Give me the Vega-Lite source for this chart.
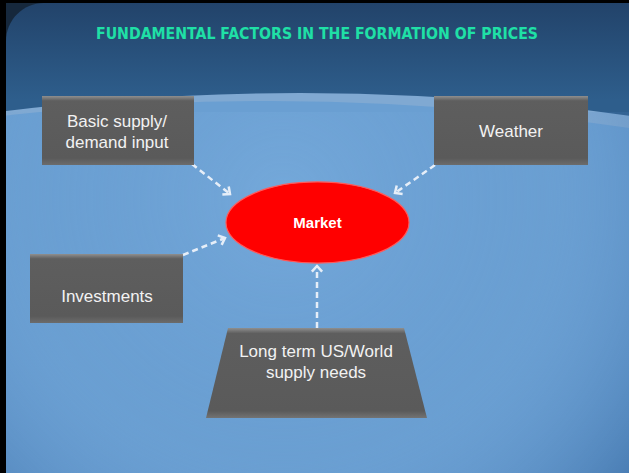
{
  "$schema": "https://vega.github.io/schema/vega-lite/v6.json",
  "width": 629,
  "height": 473,
  "autosize": {"type": "fit", "contains": "padding"},
  "padding": 0,
  "background": "#16283c",
  "config": {"view": {"stroke": null}, "axis": {"disable": true}},
  "datasets": {
    "slide": [{"x0": 6, "x1": 690, "y0": 3, "y1": 540}],
    "band": [{"cx": 300, "cy": 2493}],
    "body": [{"cx": 270, "cy": 2501}],
    "shade": [{"x0": 0, "x1": 629, "y0": 112, "y1": 473}],
    "edge": [{"x0": 0, "x1": 6, "y0": 0, "y1": 473}, {"x0": 0, "x1": 629, "y0": 0, "y1": 3}],
    "boxes": [
      {"name": "supply", "x0": 42, "x1": 194, "y0": 96, "y1": 165},
      {"name": "weather", "x0": 434, "x1": 588, "y0": 96, "y1": 165},
      {"name": "investments", "x0": 30, "x1": 183, "y0": 254, "y1": 323}
    ],
    "trap": [
      {"y": 328, "xl": 228, "xr": 404},
      {"y": 418, "xl": 206, "xr": 427}
    ],
    "market": [{"x": 317.5, "y": 222.5, "label": "Market"}],
    "arrows": [
      {"x": 192, "y": 164, "x2": 230, "y2": 194},
      {"x": 435, "y": 165, "x2": 395, "y2": 193},
      {"x": 183, "y": 255, "x2": 225, "y2": 238},
      {"x": 317, "y": 328, "x2": 317, "y2": 266}
    ],
    "labels": [
      {"x": 117, "y": 122, "text": "Basic supply/\ndemand input"},
      {"x": 511, "y": 131.5, "text": "Weather"},
      {"x": 107, "y": 297, "text": "Investments"},
      {"x": 316, "y": 352, "text": "Long term US/World\nsupply needs"}
    ],
    "title": [{"x": 317, "y": 34, "text": "FUNDAMENTAL FACTORS IN THE FORMATION OF PRICES"}]
  },
  "layer": [
    {
      "data": {"name": "slide"},
      "mark": {
        "type": "rect", "clip": true, "cornerRadius": 38,
        "fill": {"gradient": "linear", "x1": 0, "y1": 0, "x2": 0, "y2": 1,
          "stops": [{"offset": 0, "color": "#22436a"}, {"offset": 0.18, "color": "#2e5e8c"}, {"offset": 1, "color": "#2e5e8c"}]}
      },
      "encoding": {
        "x": {"field": "x0", "type": "quantitative", "scale": {"domain": [0, 629], "nice": false, "zero": false}},
        "x2": {"field": "x1"},
        "y": {"field": "y0", "type": "quantitative", "scale": {"domain": [0, 473], "nice": false, "zero": false, "reverse": true}},
        "y2": {"field": "y1"}
      }
    },
    {
      "data": {"name": "band"},
      "mark": {"type": "arc", "clip": true, "radius": 2400, "fill": "#80a9d2"},
      "encoding": {
        "x": {"field": "cx", "type": "quantitative"},
        "y": {"field": "cy", "type": "quantitative"}
      }
    },
    {
      "data": {"name": "body"},
      "mark": {"type": "arc", "clip": true, "radius": 2400, "fill": "#6a9fd2"},
      "encoding": {
        "x": {"field": "cx", "type": "quantitative"},
        "y": {"field": "cy", "type": "quantitative"}
      }
    },
    {
      "data": {"name": "shade"},
      "mark": {
        "type": "rect", "clip": true,
        "fill": {"gradient": "radial", "x1": 0.45, "y1": 0.35, "r1": 0, "x2": 0.45, "y2": 0.35, "r2": 0.75,
          "stops": [{"offset": 0, "color": "rgba(140,190,235,0.3)"}, {"offset": 0.55, "color": "rgba(110,160,215,0)"}, {"offset": 1, "color": "rgba(20,70,130,0.5)"}]}
      },
      "encoding": {
        "x": {"field": "x0", "type": "quantitative"},
        "x2": {"field": "x1"},
        "y": {"field": "y0", "type": "quantitative"},
        "y2": {"field": "y1"}
      }
    },
    {
      "data": {"name": "edge"},
      "mark": {"type": "rect", "fill": "#000000"},
      "encoding": {
        "x": {"field": "x0", "type": "quantitative"},
        "x2": {"field": "x1"},
        "y": {"field": "y0", "type": "quantitative"},
        "y2": {"field": "y1"}
      }
    },
    {
      "data": {"name": "arrows"},
      "mark": {"type": "rule", "color": "#e6eef8", "strokeWidth": 2.5, "strokeDash": [6, 4]},
      "encoding": {
        "x": {"field": "x", "type": "quantitative"},
        "y": {"field": "y", "type": "quantitative"},
        "x2": {"field": "x2"},
        "y2": {"field": "y2"}
      }
    },
    {
      "data": {"name": "arrows"},
      "transform": [{"calculate": "atan2(datum.y2 - datum.y, datum.x2 - datum.x) * 180 / PI", "as": "ang"}],
      "mark": {"type": "point", "shape": "M -1 -0.9 L 0 0 L -1 0.9", "filled": false, "stroke": "#e6eef8", "strokeWidth": 2.5, "size": 130, "opacity": 1},
      "encoding": {
        "x": {"field": "x2", "type": "quantitative"},
        "y": {"field": "y2", "type": "quantitative"},
        "angle": {"field": "ang", "type": "quantitative", "scale": null}
      }
    },
    {
      "data": {"name": "boxes"},
      "mark": {
        "type": "rect",
        "fill": {"gradient": "linear", "x1": 0, "y1": 0, "x2": 0, "y2": 1,
          "stops": [{"offset": 0, "color": "#8f8f8f"}, {"offset": 0.07, "color": "#5e5e5e"}, {"offset": 0.9, "color": "#5a5a5a"}, {"offset": 1, "color": "#6c6c6c"}]}
      },
      "encoding": {
        "x": {"field": "x0", "type": "quantitative"},
        "x2": {"field": "x1"},
        "y": {"field": "y0", "type": "quantitative"},
        "y2": {"field": "y1"}
      }
    },
    {
      "data": {"name": "trap"},
      "mark": {
        "type": "area", "orient": "horizontal",
        "fill": {"gradient": "linear", "x1": 0, "y1": 0, "x2": 0, "y2": 1,
          "stops": [{"offset": 0, "color": "#8f8f8f"}, {"offset": 0.06, "color": "#5e5e5e"}, {"offset": 0.92, "color": "#5a5a5a"}, {"offset": 1, "color": "#737373"}]}
      },
      "encoding": {
        "y": {"field": "y", "type": "quantitative"},
        "x": {"field": "xl", "type": "quantitative"},
        "x2": {"field": "xr"}
      }
    },
    {
      "data": {"name": "market"},
      "mark": {"type": "point", "shape": "M -1 0 A 1 0.443 0 1 1 1 0 A 1 0.443 0 1 1 -1 0 Z", "filled": true, "fill": "#ff0000", "stroke": "#ff5a5a", "strokeWidth": 1.2, "size": 33489, "opacity": 1},
      "encoding": {
        "x": {"field": "x", "type": "quantitative"},
        "y": {"field": "y", "type": "quantitative"}
      }
    },
    {
      "data": {"name": "market"},
      "mark": {"type": "text", "font": "Liberation Sans", "fontSize": 15, "fontWeight": "bold", "color": "#ffffff", "align": "center", "baseline": "middle"},
      "encoding": {
        "x": {"field": "x", "type": "quantitative"},
        "y": {"field": "y", "type": "quantitative"},
        "text": {"field": "label"}
      }
    },
    {
      "data": {"name": "labels"},
      "mark": {"type": "text", "font": "Liberation Sans", "fontSize": 17, "lineHeight": 21, "lineBreak": "\n", "color": "#f2f2f2", "align": "center", "baseline": "middle"},
      "encoding": {
        "x": {"field": "x", "type": "quantitative"},
        "y": {"field": "y", "type": "quantitative"},
        "text": {"field": "text"}
      }
    },
    {
      "data": {"name": "title"},
      "mark": {"type": "text", "font": "Liberation Sans Narrow, DejaVu Sans Condensed, sans-serif", "fontSize": 15.7, "fontWeight": "bold", "color": "#1fe0a6", "align": "center", "baseline": "middle"},
      "encoding": {
        "x": {"field": "x", "type": "quantitative"},
        "y": {"field": "y", "type": "quantitative"},
        "text": {"field": "text"}
      }
    }
  ]
}
